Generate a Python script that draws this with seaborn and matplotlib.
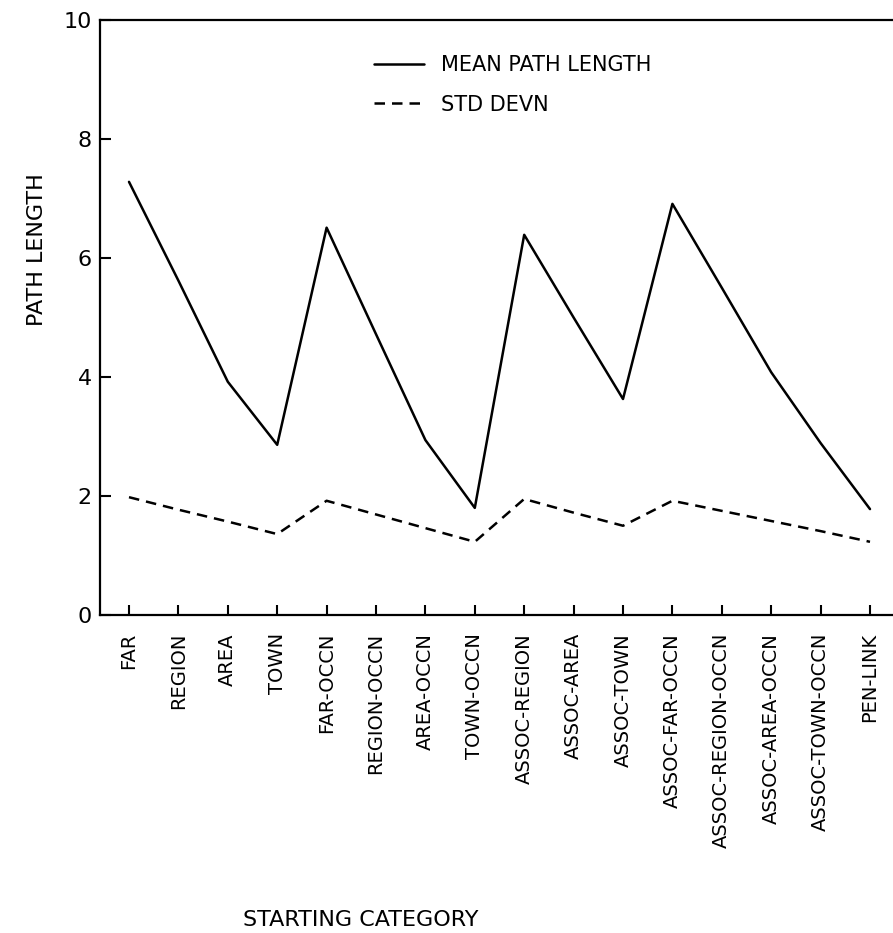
import numpy as np
import pandas as pd
import matplotlib
matplotlib.use("Agg")
import matplotlib.pyplot as plt
import seaborn as sns

categories = [
    "FAR", "REGION", "AREA", "TOWN",
    "FAR-OCCN", "REGION-OCCN", "AREA-OCCN", "TOWN-OCCN",
    "ASSOC-REGION", "ASSOC-AREA", "ASSOC-TOWN",
    "ASSOC-FAR-OCCN", "ASSOC-REGION-OCCN", "ASSOC-AREA-OCCN", "ASSOC-TOWN-OCCN",
    "PEN-LINK",
]
mean_path_length = [7.28, 5.62, 3.92, 2.86,
                    6.51, 4.72, 2.94, 1.80,
                    6.39, 5.00, 3.63,
                    6.91, 5.50, 4.08, 2.89,
                    1.78]
std_devn = [1.98, 1.77, 1.57, 1.36,
            1.92, 1.69, 1.46, 1.23,
            1.95, 1.72, 1.50,
            1.92, 1.75, 1.58, 1.41,
            1.23]
series_names = ["MEAN PATH LENGTH", "STD DEVN"]
y_ticks = [0, 2, 4, 6, 8, 10]

sns.set_theme(style="ticks")
plt.rcParams["font.family"] = ["DejaVu Sans"]
plt.rcParams["text.color"] = "black"
plt.rcParams["axes.labelcolor"] = "black"
plt.rcParams["xtick.color"] = "black"
plt.rcParams["ytick.color"] = "black"

pos = np.arange(len(categories))
df = pd.DataFrame({
    "pos": np.concatenate([pos, pos]),
    "value": mean_path_length + std_devn,
    "series": [series_names[0]] * len(pos) + [series_names[1]] * len(pos),
})

fig = plt.figure(figsize=(8.93, 9.33), dpi=100)
W, H = 893, 933
ax_left, ax_right, ax_top, ax_bottom = 100, 893, 20, 615
ax = fig.add_axes([ax_left / W, 1 - ax_bottom / H,
                   (ax_right - ax_left) / W, (ax_bottom - ax_top) / H])

sns.lineplot(data=df, x="pos", y="value", hue="series", style="series",
             palette={series_names[0]: "black", series_names[1]: "black"},
             dashes={series_names[0]: "", series_names[1]: (4.2, 2.8)},
             linewidth=1.8, legend=False, ax=ax)

step = 49.4
ax.set_xlim(-(129 - ax_left) / step, (ax_right - 129) / step)
ax.set_ylim(0, 10)

ax.set_xticks(pos)
ax.set_xticklabels(categories, rotation=90, fontsize=14, va="top", ha="center",
                   color="black")
ax.set_yticks(y_ticks)
ax.set_yticklabels([str(t) for t in y_ticks], fontsize=16, color="black")

ax.tick_params(axis="x", direction="in", length=7, width=1.5, pad=13)
ax.tick_params(axis="y", direction="in", length=8, width=1.5, pad=6)

for side in ("left", "bottom", "top"):
    ax.spines[side].set_linewidth(1.6)
    ax.spines[side].set_color("black")
ax.spines["right"].set_visible(False)

ax.set_xlabel("")
ax.set_ylabel("")

fig.text(37 / W, 1 - 250 / H, "PATH LENGTH", rotation=90, ha="center",
         va="center", fontsize=16, color="black")
fig.text(361 / W, 1 - 920 / H, "STARTING CATEGORY", ha="center",
         va="center", fontsize=16, color="black")

lines = ax.get_lines()[:2]
leg = ax.legend(lines, series_names, loc="upper left",
                bbox_to_anchor=((374 - ax_left) / (ax_right - ax_left),
                                1 - (55 - ax_top) / (ax_bottom - ax_top)),
                frameon=False, fontsize=15, handlelength=2.4, handletextpad=0.8,
                labelspacing=0.95, borderpad=0, borderaxespad=0)
for t in leg.get_texts():
    t.set_color("black")

fig.savefig("out.png", dpi=100, facecolor="white")
